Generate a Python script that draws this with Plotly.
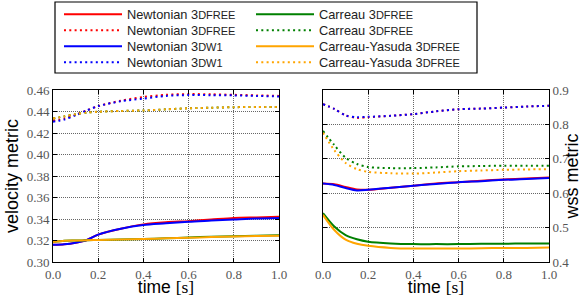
import plotly.graph_objects as go

# ---------------- data ----------------
t = [0.0, 0.05, 0.1, 0.15, 0.2, 0.3, 0.4, 0.5, 0.6, 0.7, 0.8, 0.9, 1.0]

# velocity metric
vel_newt_free = [0.316, 0.3165, 0.318, 0.3205, 0.3255, 0.331, 0.335, 0.337, 0.338, 0.3395, 0.341, 0.3415, 0.342]
vel_newt_free_dot = [0.4315, 0.4335, 0.437, 0.441, 0.445, 0.450, 0.4535, 0.4555, 0.4562, 0.456, 0.4555, 0.455, 0.4545]
vel_newt_w1 = [0.316, 0.3165, 0.318, 0.3205, 0.3255, 0.331, 0.3345, 0.336, 0.3375, 0.3385, 0.3395, 0.3405, 0.341]
vel_newt_w1_dot = [0.4305, 0.4325, 0.4365, 0.441, 0.445, 0.4495, 0.452, 0.4545, 0.4553, 0.4552, 0.455, 0.4545, 0.454]
vel_carr = [0.3185, 0.3198, 0.320, 0.3202, 0.3205, 0.321, 0.3215, 0.322, 0.3228, 0.3235, 0.324, 0.3245, 0.325]
vel_carr_dot = [0.4335, 0.4355, 0.4375, 0.439, 0.4398, 0.4405, 0.441, 0.442, 0.443, 0.4435, 0.444, 0.4442, 0.4442]
vel_cy = [0.3185, 0.3198, 0.320, 0.3202, 0.3205, 0.321, 0.3215, 0.322, 0.3226, 0.3232, 0.3238, 0.3242, 0.3245]
vel_cy_dot = [0.4335, 0.4355, 0.4375, 0.439, 0.4398, 0.4405, 0.441, 0.442, 0.443, 0.4435, 0.444, 0.4442, 0.4442]

# wss metric
wss_newt_free = [0.628, 0.626, 0.618, 0.611, 0.610, 0.616, 0.622, 0.628, 0.632, 0.636, 0.640, 0.643, 0.646]
wss_newt_free_dot = [0.859, 0.845, 0.826, 0.819, 0.821, 0.825, 0.830, 0.838, 0.844, 0.846, 0.849, 0.852, 0.854]
wss_newt_w1 = [0.628, 0.624, 0.615, 0.608, 0.610, 0.616, 0.622, 0.627, 0.632, 0.635, 0.639, 0.641, 0.644]
wss_newt_w1_dot = [0.859, 0.845, 0.826, 0.821, 0.822, 0.825, 0.830, 0.838, 0.844, 0.846, 0.849, 0.852, 0.854]
wss_carr = [0.542, 0.503, 0.478, 0.466, 0.459, 0.454, 0.452, 0.452, 0.452, 0.453, 0.453, 0.454, 0.454]
wss_carr_dot = [0.781, 0.740, 0.703, 0.685, 0.676, 0.673, 0.673, 0.675, 0.678, 0.679, 0.680, 0.680, 0.680]
wss_cy = [0.537, 0.493, 0.465, 0.453, 0.447, 0.441, 0.439, 0.439, 0.439, 0.440, 0.441, 0.441, 0.442]
wss_cy_dot = [0.776, 0.725, 0.688, 0.670, 0.662, 0.658, 0.657, 0.660, 0.664, 0.666, 0.668, 0.669, 0.670]

SC = "<span style='font-size:11px'>{}</span>"
labels = [
    "Newtonian 3" + SC.format("DFREE"),
    "Newtonian 3" + SC.format("DFREE"),
    "Newtonian 3" + SC.format("DW1"),
    "Newtonian 3" + SC.format("DW1"),
    "Carreau 3" + SC.format("DFREE"),
    "Carreau 3" + SC.format("DFREE"),
    "Carreau-Yasuda 3" + SC.format("DFREE"),
    "Carreau-Yasuda 3" + SC.format("DFREE"),
]
colors = ["#ff0000", "#ff0000", "#0000ff", "#0000ff", "#008000", "#008000", "#ffa500", "#ffa500"]
DOT = "2px,3.3px"
dashes = ["solid", DOT] * 4

vel_series = [vel_newt_free, vel_newt_free_dot, vel_newt_w1, vel_newt_w1_dot,
              vel_carr, vel_carr_dot, vel_cy, vel_cy_dot]
wss_series = [wss_newt_free, wss_newt_free_dot, wss_newt_w1, wss_newt_w1_dot,
              wss_carr, wss_carr_dot, wss_cy, wss_cy_dot]

legend_ids = ["legend"] + ["legend%d" % k for k in range(2, 9)]

fig = go.Figure()
for i in range(8):
    fig.add_trace(go.Scatter(
        x=t, y=vel_series[i], mode="lines", name=labels[i],
        line=dict(color=colors[i], width=2, dash=dashes[i], shape="spline", smoothing=0.8),
        xaxis="x", yaxis="y", legend=legend_ids[i], showlegend=True))
for i in range(8):
    fig.add_trace(go.Scatter(
        x=t, y=wss_series[i], mode="lines", name=labels[i],
        line=dict(color=colors[i], width=2, dash=dashes[i], shape="spline", smoothing=0.8),
        xaxis="x2", yaxis="y2", showlegend=False))

# ---------------- layout (pixel geometry) ----------------
W, H = 582, 297
ML, MR, MT, MB = 53, 33, 90, 35
PW, PH = W - ML - MR, H - MT - MB


def px(x):
    return (x - ML) / PW


def py(y):
    return 1 - (y - MT) / PH


tickfont = dict(family="Liberation Serif", size=13, color="#555")
common_axis = dict(showline=True, linecolor="black", linewidth=1, mirror="ticks",
                   ticks="inside", ticklen=4, tickcolor="black",
                   showgrid=True, gridcolor="#666", griddash="1px,1px", gridwidth=1,
                   zeroline=False, tickfont=tickfont, automargin=True,
                   ticklabelstandoff=0)
xtitle = dict(text="time <span style='font-family:Liberation Serif'>[s]</span>",
              font=dict(family="Liberation Sans", size=17.5, color="black"), standoff=3)
ytfont = dict(family="Liberation Sans", size=18, color="black")
legfont = dict(family="Liberation Sans", size=12.8, color="#222")

# legend layout: two columns of four rows
row_centers = [14, 30, 46, 62]
col_x = [59, 251]
col_w = [58, 58]
legends = {}
for i, lid in enumerate(legend_ids):
    col, row = divmod(i, 4)
    legends[lid] = dict(x=px(col_x[col]), y=py(row_centers[row] - 14.5),
                        xanchor="left", yanchor="top", bgcolor="rgba(0,0,0,0)",
                        font=legfont, itemwidth=col_w[col], borderwidth=0)

fig.update_layout(
    width=W, height=H, margin=dict(l=ML, r=MR, t=MT, b=MB, autoexpand=False),
    paper_bgcolor="white", plot_bgcolor="white",
    xaxis=dict(domain=[0, px(279)], range=[0, 1], dtick=0.2, tickformat=".1f",
               title=xtitle, anchor="y", **common_axis),
    yaxis=dict(domain=[0, 1], range=[0.30, 0.46], dtick=0.02, tickformat=".2f",
               title=dict(text="velocity metric", font=ytfont, standoff=3),
               anchor="x", **common_axis),
    xaxis2=dict(domain=[px(323), 1], range=[0, 1], dtick=0.2, tickformat=".1f",
                title=xtitle, anchor="y2", **common_axis),
    yaxis2=dict(domain=[0, 1], range=[0.4, 0.9], dtick=0.1, tickformat=".1f", side="right",
                title=dict(text="wss metric", font=ytfont, standoff=2),
                anchor="x2", **common_axis),
    shapes=[dict(type="rect", xref="paper", yref="paper", x0=px(55), x1=px(477),
                 y0=py(73), y1=py(2), line=dict(color="black", width=1.2),
                 fillcolor="rgba(0,0,0,0)", layer="below")],
    **legends,
)

fig.write_html("out.html", config={"displayModeBar": False},
               post_script="document.body.style.margin='0';")
